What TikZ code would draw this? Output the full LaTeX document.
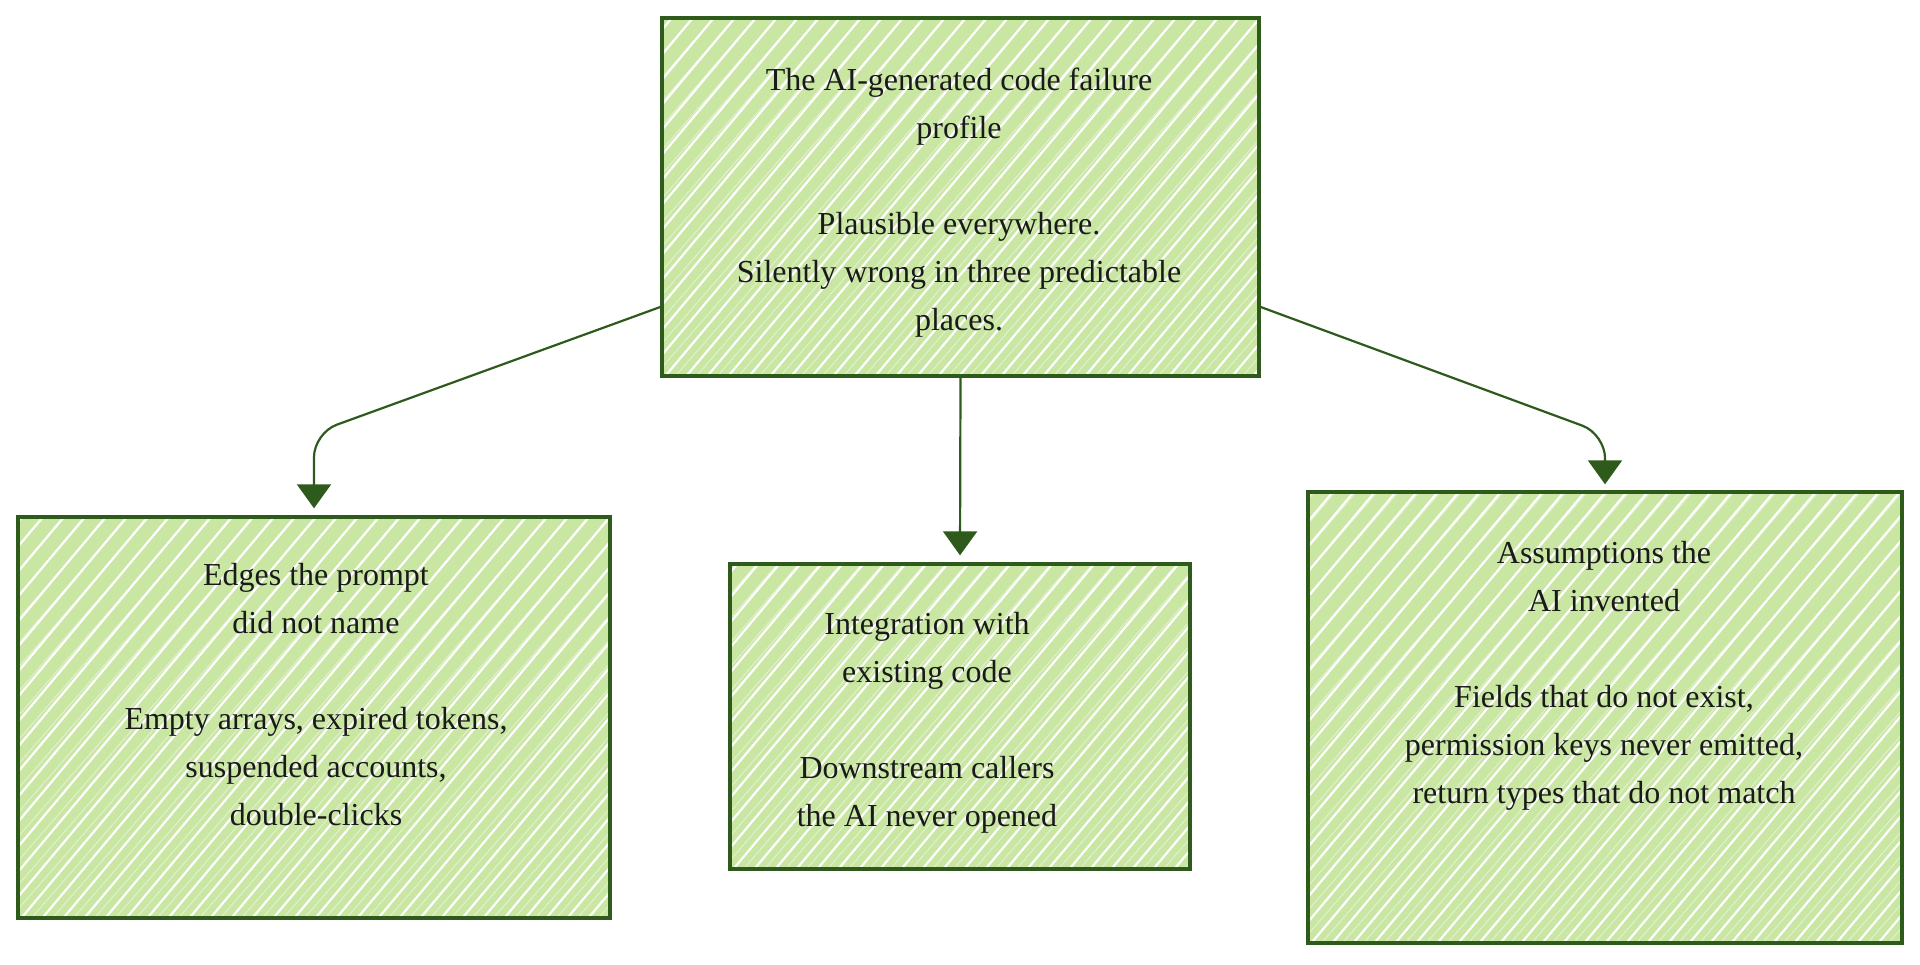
\documentclass[tikz,border=0pt]{standalone}
\usepackage{fontspec}
\setmainfont{Liberation Serif}
\usetikzlibrary{arrows.meta,calc}
\definecolor{ltgreen}{HTML}{C9E6A3}
\definecolor{dkgreen}{HTML}{2E5A1C}
\definecolor{txtcol}{HTML}{1A1A1A}
\tikzset{
  hatchbox/.style={draw=dkgreen, line width=1.7pt, fill=ltgreen, inner sep=0pt,
    path picture={
      \foreach \k in {-25,...,32}{
        \draw[white, line width=1.1pt] ($(path picture bounding box.south west)+(\k*10.5pt,-2pt)$) -- ++(50:420pt);
        \draw[white, line width=0.5pt, opacity=0.45] ($(path picture bounding box.south west)+(\k*10.5pt+5pt,-2pt)$) -- ++(49:420pt);
      }
    }},
  rough/.style={draw=dkgreen, line width=0.7pt},
  label/.style={text=txtcol, align=center, font=\fontsize{16}{24}\selectfont, inner sep=0pt},
  conn/.style={draw=dkgreen, line width=1.1pt, rounded corners=12pt, -{Triangle[width=17pt,length=12pt]}}
}
\begin{document}
\begin{tikzpicture}[x=0.5pt,y=-0.5pt]
\useasboundingbox[fill=white] (0,0) rectangle (1920,964);
% boxes
\node[hatchbox, minimum width=298.5pt, minimum height=179pt] (top) at (960.5,197) {};
\node[hatchbox, minimum width=296pt, minimum height=200.5pt] (left) at (314,717.5) {};
\node[hatchbox, minimum width=230pt, minimum height=152.5pt] (mid) at (960,716.5) {};
\node[hatchbox, minimum width=297pt, minimum height=225.5pt] (right) at (1605,717.5) {};
% second sketchy strokes
\foreach \b in {top,left,mid,right}{
  \draw[rough] ([shift={(1pt,-1.2pt)}]\b.north west) -- ([shift={(-0.5pt,-0.6pt)}]\b.north east)
    -- ([shift={(-1.1pt,0.8pt)}]\b.south east) -- ([shift={(0.6pt,1.2pt)}]\b.south west) -- cycle;
}
% texts
\node[label] (toptext) at (959,202.5) {The AI-generated code failure\\profile\\[24pt]Plausible everywhere.\\Silently wrong in three predictable\\places.};
\node[label] (lefttext) at (316,695) {Edges the prompt\\did not name\\[24pt]Empty arrays, expired tokens,\\suspended accounts,\\double-clicks};
\node[label] (midtext) at (927,723) {Integration with\\existing code\\[24pt]Downstream callers\\the AI never opened};
\node[label] (righttext) at (1604,676) {Assumptions the\\AI invented\\[24pt]Fields that do not exist,\\permission keys never emitted,\\return types that do not match};
% connectors
\draw[conn] ([yshift=-55pt]top.west) -- (left.north |- {(0,433)}) -- ([yshift=3.5pt]left.north);
\draw[conn] (top.south) -- ([yshift=3.5pt]mid.north);
\draw[conn] ([yshift=-55pt]top.east) -- (right.north |- {(0,434)}) -- ([yshift=3pt]right.north);
\end{tikzpicture}
\end{document}
